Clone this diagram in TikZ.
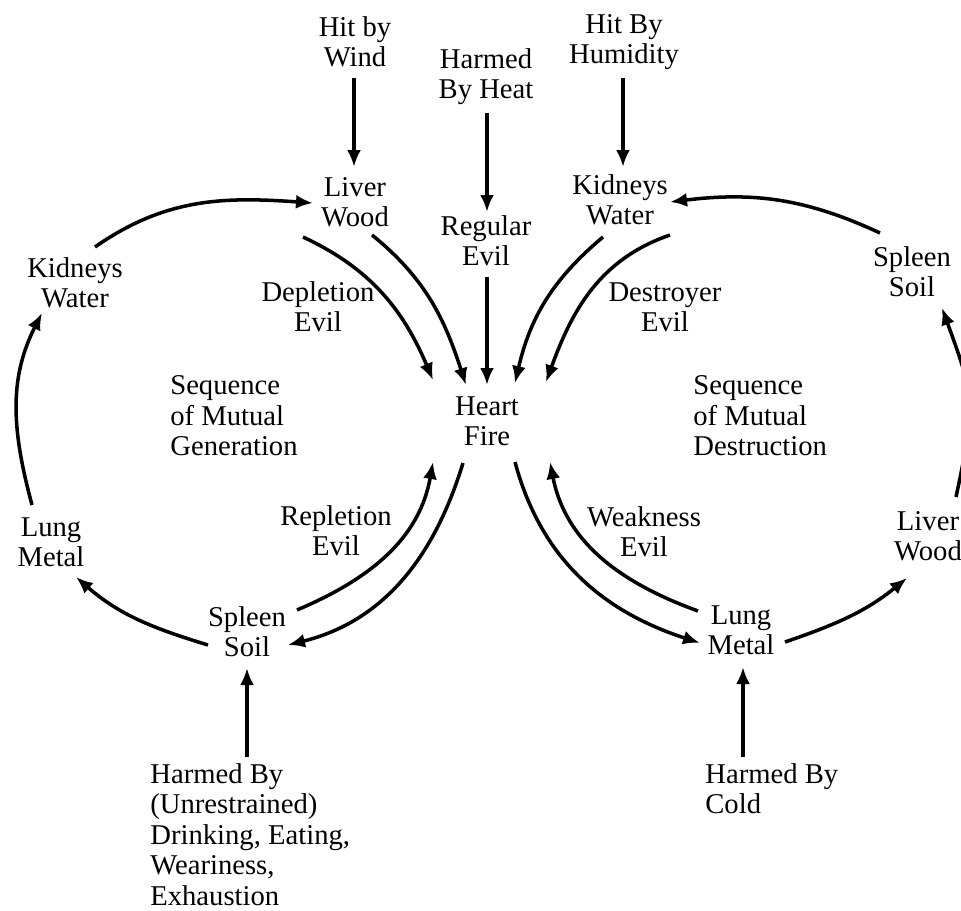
\documentclass[tikz,border=0pt]{standalone}
\usepackage{fontspec}
\setmainfont{Liberation Serif}
\usetikzlibrary{arrows.meta,calc}

\begin{document}
\begin{tikzpicture}[x=0.2mm,y=0.2mm,
    organ/.style={align=center,inner sep=0pt,font=\fontsize{16.3}{17}\selectfont},
    note/.style={align=left,inner sep=0pt,font=\fontsize{16.3}{17.4}\selectfont},
    flow/.style={line width=2pt,-{Latex[length=3.4mm,width=2.8mm]}}]
    \useasboundingbox (0,0) rectangle (961,-910);
    \clip (0,0) rectangle (961,-910);

    % outside causes
    \node[organ] (wind) at (355,-42) {Hit by\\Wind};
    \node[organ] (heat) at (486,-77) {Harmed\\By Heat};
    \node[organ] (humid) at (624,-42) {Hit By\\Humidity};
    \node[note,anchor=north west] (drink) at (150,-763) {Harmed By\\(Unrestrained)\\Drinking, Eating,\\Weariness,\\Exhaustion};
    \node[note,anchor=north west] (cold) at (705,-763) {Harmed By\\Cold};

    % organs
    \node[organ] (heart) at (487,-421) {Heart\\Fire};
    \node[organ] (livA) at (355,-202) {Liver\\Wood};
    \node[organ] (kidA) at (620,-200) {Kidneys\\Water};
    \node[organ] (kidL) at (75,-283) {Kidneys\\Water};
    \node[organ] (lungL) at (51,-542) {Lung\\Metal};
    \node[organ] (splB) at (247,-632) {Spleen\\Soil};
    \node[organ] (lungB) at (741,-630) {Lung\\Metal};
    \node[organ] (livR) at (928,-536) {Liver\\Wood};
    \node[organ] (splR) at (912,-272) {Spleen\\Soil};

    % evils and sequences
    \node[organ] (regular) at (486,-241) {Regular\\Evil};
    \node[organ] (depl) at (318,-307) {Depletion\\Evil};
    \node[organ] (destr) at (665,-307) {Destroyer\\Evil};
    \node[organ] (repl) at (336,-531) {Repletion\\Evil};
    \node[organ] (weak) at (644,-532) {Weakness\\Evil};
    \node[note,anchor=west] (seqgen) at (170,-416) {Sequence\\of Mutual\\Generation};
    \node[note,anchor=west] (seqdes) at (693,-416) {Sequence\\of Mutual\\Destruction};

    % straight arrows
    \draw[flow] ($(wind)+(-1,-36)$) -- ($(livA)+(-1,35)$);
    \draw[flow] ($(heat)+(1,-36)$) -- ($(regular)+(1,29)$);
    \draw[flow] ($(regular)+(1,-36)$) -- ($(heart)+(0,36)$);
    \draw[flow] ($(humid)+(-1,-36)$) -- ($(kidA)+(3,33)$);
    \draw[flow] ($(drink.north west)+(97,6)$) -- ($(splB)+(0,-36)$);
    \draw[flow] ($(cold.north west)+(38,6)$) -- ($(lungB)+(2,-37)$);

    % into the heart
    \draw[flow] ($(livA)+(-52,-35)$) to[out=-25,in=113] ($(heart)+(-54,41)$);
    \draw[flow] ($(livA)+(17,-33)$) to[out=-39,in=108] ($(heart)+(-21,36)$);
    \draw[flow] ($(kidA)+(-17,-37)$) to[out=220,in=77] ($(heart)+(28,38)$);
    \draw[flow] ($(kidA)+(50,-35)$) to[out=199,in=70] ($(heart)+(59,39)$);
    \draw[flow] ($(splB)+(50,22)$) to[out=23,in=260] ($(heart)+(-54,-41)$);
    \draw[flow] ($(heart)+(-24,-42)$) to[out=-107,in=14] ($(splB)+(41,-13)$);
    \draw[flow] ($(heart)+(28,-41)$) to[out=-75,in=162] ($(lungB)+(-41,-13)$);
    \draw[flow] ($(lungB)+(-43,19)$) to[out=160,in=-79] ($(heart)+(63,-41)$);

    % generation
    \draw[flow] ($(kidL)+(20,36)$) to[out=35,in=176] ($(livA)+(-42,-1)$);
    \draw[flow] ($(lungL)+(-19,37)$) to[out=105,in=243] ($(kidL)+(-33,-30)$);
    \draw[flow] ($(splB)+(-39,-13)$) to[out=163,in=-41] ($(lungL)+(25,-35)$);

    % destruction
    \draw[flow] ($(lungB)+(44,-12)$) to[out=19,in=219] ($(livR)+(-21,-42)$);
    \draw[flow] ($(livR)+(28,39)$) to[out=78,in=-70,looseness=1.3] ($(splR)+(30,-36)$);
    \draw[flow] ($(splR)+(-32,39)$) to[out=155,in=7] ($(kidA)+(50,-2)$);
\end{tikzpicture}
\end{document}
